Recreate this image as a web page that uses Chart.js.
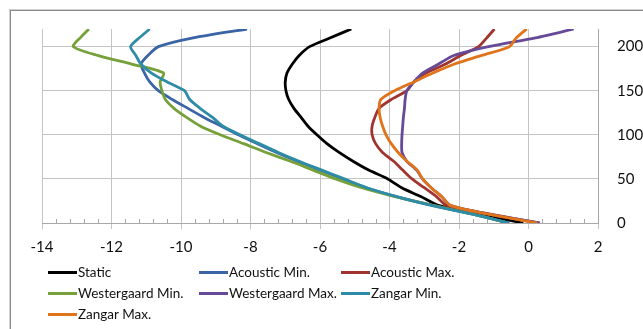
<!DOCTYPE html>
<html>
<head>
<meta charset="utf-8">
<script src="https://cdn.jsdelivr.net/npm/chart.js@4.4.0/dist/chart.umd.min.js"></script>
<style>
  html, body { margin: 0; padding: 0; background: #fff; }
  #wrap { position: relative; width: 643px; height: 329px; overflow: hidden; }
  #frame { position: absolute; left: 10px; top: 10px; width: 700px; height: 400px;
           border-left: 1px solid #8a8a8a; border-top: 1px solid #8a8a8a;
           box-shadow: -1px -1px 0 #d0d0d0; }
  canvas { position: absolute; left: 0; top: 0; }
  .leg { position: absolute; font-family: Lato, sans-serif; font-size: 13.5px; color: #111;
         display: flex; align-items: center; white-space: nowrap; }
  .leg span.ln { display: inline-block; width: 29px; height: 3px; margin-right: 1px; }
</style>
</head>
<body>
<div id="wrap">
  <div id="frame"></div>
  <canvas id="myChart" width="643" height="329"></canvas>
  <div id="legend"></div>
</div>
<script>
// heights (y axis) shared by all series
let heights = [0, 10, 20, 30, 40, 50, 60, 70, 80, 90, 100, 110, 120, 130, 140, 150, 160, 170, 180, 190, 200, 210, 220];

let seriesNames = ['Static', 'Acoustic Min.', 'Acoustic Max.', 'Westergaard Min.', 'Westergaard Max.', 'Zangar Min.', 'Zangar Max.'];
let seriesColors = ['#000000', '#3A64A6', '#A0342F', '#76A03A', '#674A97', '#2F8CA6', '#E0741A'];

let staticVals = [-0.15, -1.45, -2.6, -3.1, -3.65, -4.05, -4.6, -5.05, -5.45, -5.8, -6.09, -6.35, -6.55, -6.75, -6.9, -6.98, -7.0, -6.95, -6.8, -6.6, -6.3, -5.7, -5.1];
let acousticMin = [-0.55, -1.6, -2.75, -3.8, -4.67, -5.35, -5.99, -6.65, -7.25, -7.8, -8.35, -8.85, -9.35, -9.8, -10.25, -10.65, -10.9, -11.05, -11.15, -10.95, -10.65, -9.65, -8.1];
let acousticMax = [0.3, -1.1, -2.35, -2.65, -3.0, -3.35, -3.62, -3.88, -4.2, -4.4, -4.5, -4.5, -4.42, -4.3, -3.95, -3.5, -3.3, -2.95, -2.4, -1.95, -1.44, -1.2, -0.98];
let westergaardMin = [-0.6, -1.6, -2.75, -3.85, -4.8, -5.55, -6.2, -6.85, -7.55, -8.2, -8.87, -9.45, -9.85, -10.2, -10.45, -10.55, -10.6, -10.5, -11.4, -12.4, -13.1, -12.9, -12.65];
let westergaardMax = [0.33, -1.15, -2.25, -2.5, -2.8, -3.05, -3.22, -3.5, -3.64, -3.65, -3.64, -3.62, -3.6, -3.57, -3.55, -3.5, -3.3, -3.05, -2.6, -2.15, -1.15, 0.2, 1.3];
let zangarMin = [-0.6, -1.6, -2.8, -3.8, -4.65, -5.3, -5.95, -6.6, -7.2, -7.75, -8.3, -8.8, -9.1, -9.45, -9.75, -9.9, -10.4, -10.85, -11.15, -11.3, -11.45, -11.2, -10.9];
let zangarMax = [0.25, -1.15, -2.25, -2.5, -2.8, -3.05, -3.2, -3.5, -3.75, -3.95, -4.1, -4.2, -4.27, -4.3, -4.25, -3.85, -3.3, -2.75, -2.15, -1.35, -0.55, -0.35, -0.05];

let allSeries = [staticVals, acousticMin, acousticMax, westergaardMin, westergaardMax, zangarMin, zangarMax];

let xTicks = [-14, -12, -10, -8, -6, -4, -2, 0, 2];
let yTicks = [0, 50, 100, 150, 200];

const font = { family: 'Lato, sans-serif', size: 15 };
const gridColor = '#c4c4c4';

// small minor ticks on the x axis, every 0.4
const minorTicks = {
    id: 'minorTicks',
    beforeDatasetsDraw(chart) {
        const xs = chart.scales.x;
        const bottom = chart.chartArea.bottom;
        const ctx = chart.ctx;
        ctx.save();
        ctx.strokeStyle = '#a8a8a8';
        ctx.lineWidth = 1;
        for (let k = 0; k <= 40; k++) {
            if (k % 5 === 0) continue;
            let v = xs.min + k * 0.4;
            let px = Math.round(xs.getPixelForValue(v)) + 0.5;
            ctx.beginPath();
            ctx.moveTo(px, bottom);
            ctx.lineTo(px, bottom - 4);
            ctx.stroke();
        }
        ctx.restore();
    }
};

let datasets = [];
for (let i = 0; i < allSeries.length; i++) {
    datasets.push({
        label: seriesNames[i],
        data: heights.map((h, j) => ({ x: allSeries[i][j], y: h })),
        borderColor: seriesColors[i],
        backgroundColor: seriesColors[i],
        borderWidth: 2.8,
        pointRadius: 0,
        showLine: true,
        tension: 0.25,
        order: 10 - i
    });
}

const ctx = document.getElementById('myChart').getContext('2d');
const myChart = new Chart(ctx, {
    type: 'scatter',
    data: { datasets: datasets },
    plugins: [minorTicks],
    options: {
        responsive: false,
        animation: false,
        layout: { padding: { left: 42, top: 29, right: 0, bottom: 76 } },
        plugins: { legend: { display: false }, tooltip: { enabled: false } },
        scales: {
            x: {
                type: 'linear',
                min: xTicks[0],
                max: xTicks[xTicks.length - 1],
                afterBuildTicks: s => { s.ticks = xTicks.map(v => ({ value: v })); },
                afterFit: s => { s.height = 30; },
                grid: { color: gridColor, tickLength: 6, tickColor: gridColor },
                border: { color: '#a8a8a8' },
                ticks: { font: font, color: '#111', padding: 9, maxRotation: 0 }
            },
            y: {
                type: 'linear',
                position: 'right',
                min: 0,
                max: 220,
                afterBuildTicks: s => { s.ticks = yTicks.map(v => ({ value: v })); },
                afterFit: s => { s.width = 45; },
                grid: { color: gridColor, drawTicks: false },
                border: { color: '#a8a8a8' },
                ticks: { font: font, color: '#111', padding: 19 }
            }
        }
    }
});

// legend in three columns like the original
let legendPos = [[48, 272], [199, 272], [341, 272], [48, 293], [199, 293], [341, 293], [48, 314]];
let html = '';
for (let i = 0; i < seriesNames.length; i++) {
    html += `<div class="leg" style="left:${legendPos[i][0]}px;top:${legendPos[i][1] - 9}px;height:18px">
        <span class="ln" style="background:${seriesColors[i]}"></span>${seriesNames[i]}</div>`;
}
document.getElementById('legend').innerHTML = html;
</script>
</body>
</html>
